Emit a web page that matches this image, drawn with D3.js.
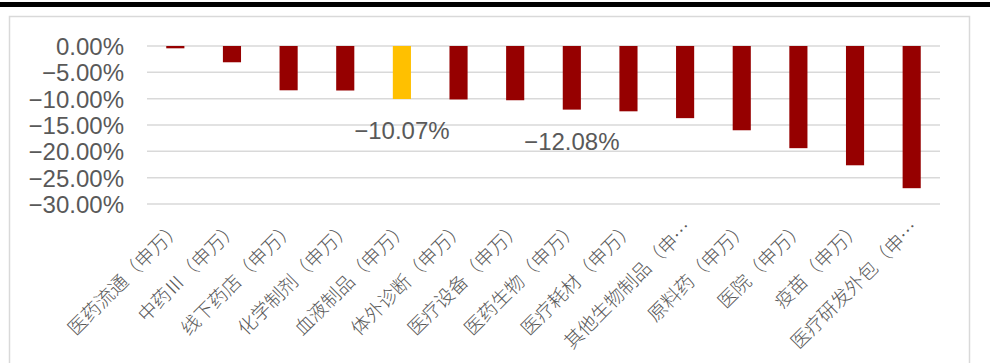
<!DOCTYPE html>
<html>
<head>
<meta charset="utf-8">
<script src="https://cdn.jsdelivr.net/npm/d3@7"></script>
<style>
  html, body { margin: 0; padding: 0; background: #fff; }
  svg { display: block; }
</style>
</head>
<body>
<svg id="chart" width="995" height="363"></svg>
<script>
// Shenwan pharma sub-industry returns (%)
const categories = [
  "医药流通(申万)", "中药Ⅲ(申万)", "线下药店(申万)", "化学制剂(申万)",
  "血液制品(申万)", "体外诊断(申万)", "医疗设备(申万)", "医药生物(申万)",
  "医疗耗材(申万)", "其他生物制品(申万)", "原料药(申万)", "医院(申万)",
  "疫苗(申万)", "医疗研发外包(申万)"
];
const tickLabels = [
  "医药流通（申万）", "中药Ⅲ（申万）", "线下药店（申万）", "化学制剂（申万）",
  "血液制品（申万）", "体外诊断（申万）", "医疗设备（申万）", "医药生物（申万）",
  "医疗耗材（申万）", "其他生物制品（申…", "原料药（申万）", "医院（申万）",
  "疫苗（申万）", "医疗研发外包（申…"
];
const returns = [-0.44, -3.09, -8.41, -8.45, -10.07, -10.15, -10.3, -12.08,
                 -12.4, -13.7, -16.0, -19.4, -22.65, -27.0];
const highlighted = ["血液制品(申万)"];
const annotated = ["血液制品(申万)", "医药生物(申万)"];
const yTicks = [0, -5, -10, -15, -20, -25, -30];

const svg = d3.select("#chart");
const plot = { left: 147, right: 940, top: 46, bottom: 204 };

// Top rule and chart frame
svg.append("rect").attr("x", 0).attr("y", 2).attr("width", 990).attr("height", 5).attr("fill", "#000");
svg.append("rect").attr("x", 9.5).attr("y", 16.5).attr("width", 960).attr("height", 360)
  .attr("fill", "none").attr("stroke", "#d9d9d9").attr("stroke-width", 1.5);

const x = d3.scaleBand().domain(categories).range([plot.left, plot.right])
  .paddingInner(0.68).paddingOuter(0.34);
const y = d3.scaleLinear().domain([-30, 0]).range([plot.bottom, plot.top]);
const fmt = d3.format(".2f");

// Gridlines
svg.append("g").selectAll("line").data(yTicks).join("line")
  .attr("x1", plot.left).attr("x2", plot.right)
  .attr("y1", d => y(d)).attr("y2", d => y(d))
  .attr("stroke", "#d9d9d9").attr("stroke-width", 1.5);

// Y axis
const yAxis = svg.append("g").attr("transform", `translate(${plot.left},0)`)
  .call(d3.axisLeft(y).tickValues(yTicks).tickSize(0).tickPadding(23)
    .tickFormat(d => (d < 0 ? "−" : "") + fmt(Math.abs(d)) + "%"));
yAxis.select(".domain").remove();
yAxis.selectAll("text")
  .attr("font-family", "'Liberation Sans', Arial, sans-serif")
  .attr("font-size", 24).attr("fill", "#595959").attr("dy", "0.36em");

// Bars
svg.append("g").selectAll("rect").data(categories).join("rect")
  .attr("x", d => x(d))
  .attr("width", x.bandwidth())
  .attr("y", (d, i) => y(0))
  .attr("height", (d, i) => y(returns[i]) - y(0))
  .attr("fill", d => highlighted.includes(d) ? "#ffc000" : "#960000");

// Value annotations under selected bars
svg.append("g").selectAll("text").data(annotated).join("text")
  .attr("x", d => x(d) + x.bandwidth() / 2)
  .attr("y", d => y(returns[categories.indexOf(d)]) + 40)
  .attr("text-anchor", "middle")
  .attr("font-family", "'Liberation Sans', Arial, sans-serif")
  .attr("font-size", 24).attr("fill", "#595959")
  .text(d => "−" + fmt(Math.abs(returns[categories.indexOf(d)])) + "%");

// Rotated category labels
svg.append("g").selectAll("text").data(categories).join("text")
  .attr("transform", d => `translate(${x(d) + x.bandwidth() / 2 + 8},${plot.bottom + 25}) rotate(-45)`)
  .attr("text-anchor", "end")
  .attr("font-family", "'Noto Sans CJK SC', sans-serif")
  .attr("font-weight", 300)
  .attr("font-size", 19).attr("fill", "#595959")
  .text((d, i) => tickLabels[i]);
</script>
</body>
</html>
